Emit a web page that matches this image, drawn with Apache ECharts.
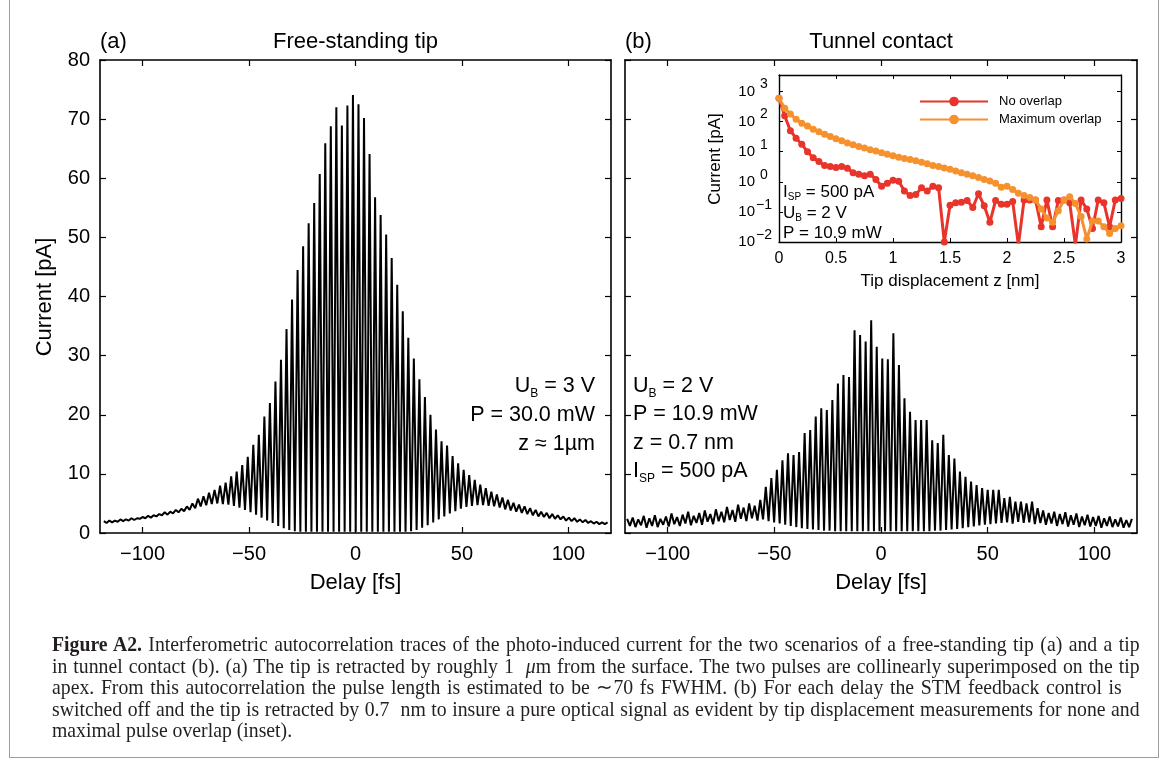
<!DOCTYPE html>
<html>
<head>
<meta charset="utf-8">
<script src="https://cdn.jsdelivr.net/npm/echarts@6.0.0/dist/echarts.min.js"></script>
<style>
  html, body { margin:0; padding:0; background:#fff; width:1168px; height:765px; overflow:hidden; }
  #chart { position:absolute; left:0; top:0; width:1168px; height:765px; z-index:1; }
  #frame { position:absolute; left:9px; top:-3px; width:1150px; height:761px; border:1px solid #9c9c9c; box-sizing:border-box; z-index:5; pointer-events:none; background:transparent; }
  #caption { position:absolute; left:52px; top:634px; z-index:3; font-family:"Liberation Serif", serif; font-size:21px; line-height:21.5px; color:#231f20; transform:scaleX(0.94); transform-origin:0 0; }
  #caption div { white-space:nowrap; text-align:justify; text-align-last:justify; width:1157px; }
  #caption div.l3 { width:1138px; }
  #caption div.last { text-align-last:left; }
</style>
</head>
<body>
<div id="chart"></div>
<div id="caption">
  <div><b>Figure A2.</b> Interferometric autocorrelation traces of the photo-induced current for the two scenarios of a free-standing tip (a) and a tip</div>
  <div>in tunnel contact (b). (a) The tip is retracted by roughly 1&nbsp; <i>μ</i>m from the surface. The two pulses are collinearly superimposed on the tip</div>
  <div class="l3">apex. From this autocorrelation the pulse length is estimated to be ∼70 fs FWHM. (b) For each delay the STM feedback control is</div>
  <div>switched off and the tip is retracted by 0.7&nbsp; nm to insure a pure optical signal as evident by tip displacement measurements for none and</div>
  <div class="last">maximal pulse overlap (inset).</div>
</div>
<div id="frame"></div>
<script>
// ---------------- data ----------------
const FRINGE_PERIOD = 2.6;          // fs between fringes
const PHASE_A = -1.2, PHASE_B = 0.6; // delay of fringe k = 0
const K0_A = -45, K0_B = -46;        // index of first fringe

// Panel (a) free-standing tip: fringe maxima / minima [pA]
const peaksA = [
  2.0, 2.1, 2.1, 2.3, 2.3, 2.5, 2.5, 2.7, 2.9, 3.0, 3.2, 3.5, 3.6, 3.9, 4.1,
  4.5, 5.0, 5.8, 6.2, 6.8, 7.3, 8.0, 8.5, 9.6, 10.4, 11.5, 12.9, 14.9, 16.6, 19.7, 22.0, 25.6,
  29.3, 34.5, 39.5, 44.5, 48.5, 52.4, 55.8, 60.7, 65.9, 68.8, 72.0, 68.9, 72.3, 74.1,
  72.5, 70.2, 64.1, 56.8, 53.8, 50.5, 46.5, 42.0, 37.5, 33.0, 29.5, 26.0, 23.0, 20.0,
  17.5, 15.5, 14.8, 13.0, 11.8, 10.7, 9.8, 9.0, 8.2, 7.6, 7.0, 6.5, 6.0, 5.6, 5.1, 4.8,
  4.5, 4.2, 3.9, 3.6, 3.4, 3.2, 3.0, 2.8, 2.6, 2.5, 2.3, 2.2, 2.0, 1.9, 1.8, 1.8
];
const troughsA = [
  1.7, 1.8, 1.9, 2.0, 2.1, 2.2, 2.4, 2.5, 2.6, 2.8, 3.0, 3.1, 3.3, 3.5, 3.7, 3.9, 4.2, 4.5, 4.7, 4.9,
  5.0, 4.9, 4.8, 4.6, 4.3, 3.9, 3.5, 3.1, 2.6, 2.1, 1.7, 1.2, 0.8, 0.5, 0.3, 0.2,
  0.2, 0.2, 0.2, 0.2, 0.2, 0.2, 0.2, 0.2, 0.2, 0.2, 0.2, 0.2, 0.2, 0.2, 0.2, 0.2, 0.2, 0.2,
  0.2, 0.3, 0.5, 0.9, 1.3, 1.8, 2.3, 2.8, 3.3, 3.7, 4.1, 4.4, 4.6, 4.7, 4.7, 4.6, 4.5,
  4.3, 4.0, 3.8, 3.6, 3.4, 3.2, 3.0, 2.8, 2.7, 2.5, 2.4, 2.3, 2.1, 2.0, 1.9, 1.8, 1.7, 1.6, 1.5, 1.5
];

// Panel (b) tunnel contact: fringe maxima / minima [pA]
const peaksB = [
  2.4, 2.6, 2.3, 2.9, 2.5, 3.0, 2.4, 2.8, 3.3, 2.7, 3.1, 3.6, 2.9, 3.4, 3.8, 3.2, 4.0, 3.6, 4.4, 3.9, 4.8, 4.3, 5.0, 4.6,
  5.6, 7.8, 9.3, 10.7, 12.3, 13.5, 13.2, 13.7, 16.9, 17.4, 19.7, 21.1, 20.8, 22.5, 25.3, 26.7, 26.4, 34.3, 33.5, 32.4, 36.0, 31.5,
  29.5, 29.4, 33.8, 28.4, 22.8, 20.5, 19.1, 19.1, 19.1, 15.7, 15.2, 16.6, 13.2, 12.6, 10.4, 9.5, 8.7, 8.1, 7.6, 7.3, 7.3, 7.3, 5.9,
  6.1, 5.3, 5.3, 5.0, 5.3, 4.2, 3.8, 3.4, 3.6, 3.2, 3.5, 3.0, 3.3, 2.8, 3.1, 2.7, 2.9, 2.5, 2.8, 2.3, 2.6, 2.2, 2.4
];
const troughsB = [
  1.2, 1.0, 1.3, 0.9, 1.2, 1.0, 1.4, 1.1, 1.5, 1.2, 1.6, 1.3, 1.7, 1.4, 1.9, 1.5, 2.0,
  1.8, 2.2, 1.9, 2.4, 2.0, 2.5, 2.1, 2.3,
  2.0, 1.8, 1.6, 1.4, 1.2, 1.0, 0.8,
  0.7, 0.6, 0.5, 0.4, 0.4, 0.3,
  0.3, 0.3, 0.3, 0.3, 0.3, 0.3, 0.3, 0.3, 0.3, 0.3, 0.3, 0.3, 0.3, 0.3, 0.3, 0.3,
  0.3, 0.4, 0.4, 0.5, 0.6, 0.7,
  0.8, 1.0, 1.1, 1.3, 1.4, 1.5, 1.6,
  1.7, 1.8, 1.6, 1.9, 1.7, 1.8, 1.5, 1.7,
  1.4, 1.6, 1.2, 1.5, 1.1, 1.4, 1.0, 1.3, 1.1, 1.2, 0.9, 1.2, 1.0, 1.1, 0.9, 1.0
];

// Inset: current vs tip displacement
const zInset = [0, 0.05, 0.1, 0.15, 0.2, 0.25, 0.3, 0.35, 0.4, 0.45, 0.5, 0.55, 0.6, 0.65, 0.7, 0.75, 0.8, 0.85, 0.9, 0.95,
  1, 1.05, 1.1, 1.15, 1.2, 1.25, 1.3, 1.35, 1.4, 1.45, 1.5, 1.55, 1.6, 1.65, 1.7, 1.75, 1.8, 1.85, 1.9, 1.95,
  2, 2.05, 2.1, 2.15, 2.2, 2.25, 2.3, 2.35, 2.4, 2.45, 2.5, 2.55, 2.6, 2.65, 2.7, 2.75, 2.8, 2.85, 2.9, 2.95, 3];
const noOverlap = [600, 158, 50, 28, 17.8, 10, 6.3, 4.7, 3.5, 3.2, 3.0, 3.2, 2.8, 2.0, 1.8, 1.6, 1.8, 1.2, 0.71, 0.89,
  1.12, 1.05, 0.5, 0.35, 0.38, 0.63, 0.5, 0.71, 0.63, 0.01, 0.166, 0.2, 0.21, 0.24, 0.14, 0.4, 0.16, 0.045, 0.24, 0.18,
  0.18, 0.22, 0.008, 0.25, 0.25, 0.25, 0.032, 0.25, 0.032, 0.24, 0.25, 0.2, 0.008, 0.25, 0.126, 0.028, 0.25, 0.2, 0.032, 0.25, 0.28];
const maxOverlap = [600, 280, 178, 120, 89, 71, 56, 46, 38, 32, 27, 23, 19.5, 17, 14.8, 13.2, 11.7, 10.5, 9.3, 8.3,
  7.4, 6.6, 6.0, 5.5, 5.0, 4.5, 4.0, 3.5, 3.2, 2.9, 2.6, 2.3, 2.0, 1.8, 1.6, 1.4, 1.2, 1.07, 0.89, 0.66,
  0.71, 0.56, 0.42, 0.35, 0.30, 0.25, 0.126, 0.063, 0.045, 0.11, 0.25, 0.32, 0.19, 0.071, 0.0126, 0.05, 0.05, 0.032, 0.019, 0.028, 0.035];

const delayTicks = [-100, -50, 0, 50, 100];
const seriesNames = ['No overlap', 'Maximum overlap'];

// ---------------- build ----------------
function trace(peaks, troughs, k0, phase) {
  const out = [];
  for (let i = 0; i < peaks.length; i++) {
    out.push([phase + (k0 + i) * FRINGE_PERIOD, peaks[i]]);
    if (i < troughs.length) out.push([phase + (k0 + i + 0.5) * FRINGE_PERIOD, troughs[i]]);
  }
  return out;
}
const zip = (xs, ys) => xs.map((x, i) => [x, ys[i]]);

const FONT = 'Liberation Sans';
const BLK = '#000';
const axLine = { onZero: false, lineStyle: { color: BLK, width: 1.6 } };
const minus = v => (v < 0 ? '\u2212' + Math.abs(v) : String(v));

function delayAxis(grid, pos, labels) {
  return {
    gridIndex: grid, type: 'value', position: pos, min: -120, max: 120,
    axisLine: axLine,
    axisTick: { inside: true, length: 6, customValues: delayTicks, lineStyle: { color: BLK, width: 1.2 } },
    axisLabel: labels ? { customValues: delayTicks, formatter: minus, color: BLK, fontSize: 20, fontFamily: FONT, margin: 11 } : { show: false },
    splitLine: { show: false }
  };
}
function currentAxis(grid, pos, labels) {
  return {
    gridIndex: grid, type: 'value', position: pos, min: 0, max: 80, interval: 10,
    axisLine: axLine,
    axisTick: { inside: true, length: 6, lineStyle: { color: BLK, width: 1.2 } },
    axisLabel: labels ? { color: BLK, fontSize: 20, fontFamily: FONT, margin: 10 } : { show: false },
    splitLine: { show: false }
  };
}
function zAxis(pos, labels) {
  return {
    gridIndex: 2, type: 'value', position: pos, min: 0, max: 3, interval: 0.5,
    axisLine: { onZero: false, lineStyle: { color: BLK, width: 1.4 } },
    axisTick: { inside: true, length: 4, lineStyle: { color: BLK, width: 1 } },
    axisLabel: labels ? { color: BLK, fontSize: 16, fontFamily: FONT, margin: 9 } : { show: false },
    splitLine: { show: false }
  };
}
function logAxis(pos, labels) {
  return {
    gridIndex: 2, type: 'log', logBase: 10, position: pos, min: 0.01, max: 3548,
    axisLine: { onZero: false, lineStyle: { color: BLK, width: 1.4 } },
    axisTick: { inside: true, length: 4, lineStyle: { color: BLK, width: 1 } },
    axisLabel: labels ? {
      margin: 6,
      formatter: v => {
        const e = Math.log10(v), r = Math.round(e);
        if (Math.abs(e - r) > 1e-6) return '';
        return '{b|10}{e|' + (r < 0 ? '\u2212' + (-r) : r) + '}';
      },
      rich: {
        b: { fontSize: 15, fontFamily: FONT, color: BLK, lineHeight: 28 },
        e: { fontSize: 14, fontFamily: FONT, color: BLK, lineHeight: 14, verticalAlign: 'top', width: 18, align: 'left' }
      }
    } : { show: false },
    splitLine: { show: false }
  };
}

const subRich = size => ({ sub: { fontSize: size, fontFamily: FONT, fill: BLK, verticalAlign: 'bottom', lineHeight: size } });
function txt(x, y, text, size, align, extra) {
  return Object.assign({
    type: 'text', x: x, y: y, z: 100,
    style: {
      text: text, fontSize: size, fontFamily: FONT, fill: BLK,
      align: align || 'left', verticalAlign: 'middle', lineHeight: Math.round(size * 1.25),
      rich: subRich(Math.round(size * 0.58))
    }
  }, extra || {});
}

const option = {
  animation: false,
  backgroundColor: '#fff',
  grid: [
    { left: 100, top: 60, width: 511, height: 473 },
    { left: 625, top: 60, width: 512, height: 473 },
    { left: 779, top: 75, width: 342, height: 167, show: true, backgroundColor: '#fff', borderWidth: 0, z: 5 }
  ],
  xAxis: [
    delayAxis(0, 'bottom', true), delayAxis(0, 'top', false),
    delayAxis(1, 'bottom', true), delayAxis(1, 'top', false),
    Object.assign(zAxis('bottom', true), { z: 6 }), Object.assign(zAxis('top', false), { z: 6 })
  ],
  yAxis: [
    currentAxis(0, 'left', true), currentAxis(0, 'right', false),
    currentAxis(1, 'left', false), currentAxis(1, 'right', false),
    Object.assign(logAxis('left', true), { z: 6 }), Object.assign(logAxis('right', false), { z: 6 })
  ],
  legend: {
    data: seriesNames, orient: 'vertical', left: 914, top: 90,
    itemWidth: 68, itemHeight: 12, itemGap: 5, selectedMode: false, z: 20,
    textStyle: { fontSize: 13, fontFamily: FONT, color: BLK, padding: [0, 0, 0, 6] }
  },
  series: [
    { type: 'line', xAxisIndex: 0, yAxisIndex: 0, data: trace(peaksA, troughsA, K0_A, PHASE_A),
      showSymbol: false, symbol: 'none', silent: true, lineStyle: { color: BLK, width: 2 } },
    { type: 'line', xAxisIndex: 2, yAxisIndex: 2, data: trace(peaksB, troughsB, K0_B, PHASE_B),
      showSymbol: false, symbol: 'none', silent: true, lineStyle: { color: BLK, width: 2 } },
    { type: 'line', name: seriesNames[0], xAxisIndex: 4, yAxisIndex: 4, data: zip(zInset, noOverlap), z: 10,
      symbol: 'circle', symbolSize: 7, itemStyle: { color: '#e8342b' }, lineStyle: { color: '#e8342b', width: 3 } },
    { type: 'line', name: seriesNames[1], xAxisIndex: 4, yAxisIndex: 4, data: zip(zInset, maxOverlap), z: 11,
      symbol: 'circle', symbolSize: 7, itemStyle: { color: '#f5922e' }, lineStyle: { color: '#f5922e', width: 3 } }
  ],
  graphic: { elements: [
    txt(100, 42, '(a)', 22),
    txt(355.5, 42, 'Free-standing tip', 22, 'center'),
    txt(625, 42, '(b)', 22),
    txt(881, 42, 'Tunnel contact', 22, 'center'),
    txt(355.5, 583, 'Delay [fs]', 22, 'center'),
    txt(881, 583, 'Delay [fs]', 22, 'center'),
    txt(45, 297, 'Current [pA]', 22, 'center', { rotation: Math.PI / 2 }),
    txt(595, 386, 'U{sub|B} = 3 V', 21.5, 'right'),
    txt(595, 415, 'P = 30.0 mW', 21.5, 'right'),
    txt(595, 444, 'z \u2248 1\u00b5m', 21.5, 'right'),
    txt(633, 386, 'U{sub|B} = 2 V', 21.5, 'left'),
    txt(633, 414, 'P = 10.9 mW', 21.5, 'left'),
    txt(633, 443, 'z = 0.7 nm', 21.5, 'left'),
    txt(633, 471, 'I{sub|SP} = 500 pA', 21.5, 'left'),
    txt(715, 159, 'Current [pA]', 17, 'center', { rotation: Math.PI / 2 }),
    txt(950, 281, 'Tip displacement z [nm]', 17, 'center'),
    txt(783, 192, 'I{sub|SP} = 500 pA', 17, 'left'),
    txt(783, 213, 'U{sub|B} = 2 V', 17, 'left'),
    txt(783, 233, 'P = 10.9 mW', 17, 'left')
  ] }
};

const chart = echarts.init(document.getElementById('chart'), null, { renderer: 'canvas' });
chart.setOption(option);
</script>
</body>
</html>
